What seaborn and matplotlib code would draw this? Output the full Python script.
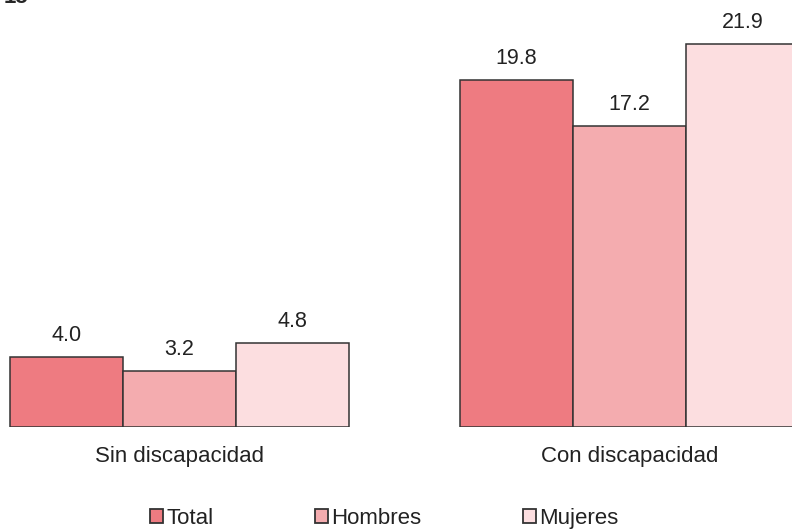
import matplotlib
matplotlib.use("Agg")
import matplotlib.pyplot as plt
import seaborn as sns
import pandas as pd

# data
categories = ["Sin discapacidad", "Con discapacidad"]
series = ["Total", "Hombres", "Mujeres"]
total = [4.0, 19.8]
hombres = [3.2, 17.2]
mujeres = [4.8, 21.9]

colors = ["#EE7B81", "#F4ACAF", "#FCDEE0"]

df = pd.DataFrame({
    "grupo": categories * 3,
    "sexo": [s for s in series for _ in categories],
    "valor": total + hombres + mujeres,
})

sns.set_style("white")
plt.rcParams["font.family"] = ["Liberation Sans", "DejaVu Sans"]

fig = plt.figure(figsize=(7.92, 5.29), dpi=100)
ax = fig.add_axes([0, 0.193, 1, 0.807])

sns.barplot(data=df, x="grupo", y="valor", hue="sexo", order=categories,
            hue_order=series, palette=colors, width=0.753, gap=0,
            edgecolor="#333333", linewidth=1.1, saturation=1,
            legend=False, ax=ax)

for cont in ax.containers:
    ax.bar_label(cont, fmt="%.1f", padding=8, fontsize=15.5, color="#222222")

ax.set_xlim(-0.399, 1.361)
ax.set_ylim(0, 24.4)
ax.set_xlabel("")
ax.set_ylabel("")
ax.set_yticks([])
ax.tick_params(axis="x", length=0, pad=14, labelsize=16, labelcolor="#222222")
sns.despine(ax=ax, left=True, bottom=True)

handles = [plt.Rectangle((0, 0), 1, 1, facecolor=c, edgecolor="#333333", linewidth=1.3)
           for c in colors]
fig.legend(handles, series, loc="center", bbox_to_anchor=(0.485, 0.02), ncol=3,
           frameon=False, fontsize=16, handlelength=0.6, handleheight=0.6,
           handletextpad=0.15, columnspacing=4.55, labelcolor="#222222")

# the chart number is cut off at the top edge of the picture
fig.text(0.005, 0.994, "15", fontsize=16, fontweight="bold", va="baseline")

fig.savefig("out.png", dpi=100)
